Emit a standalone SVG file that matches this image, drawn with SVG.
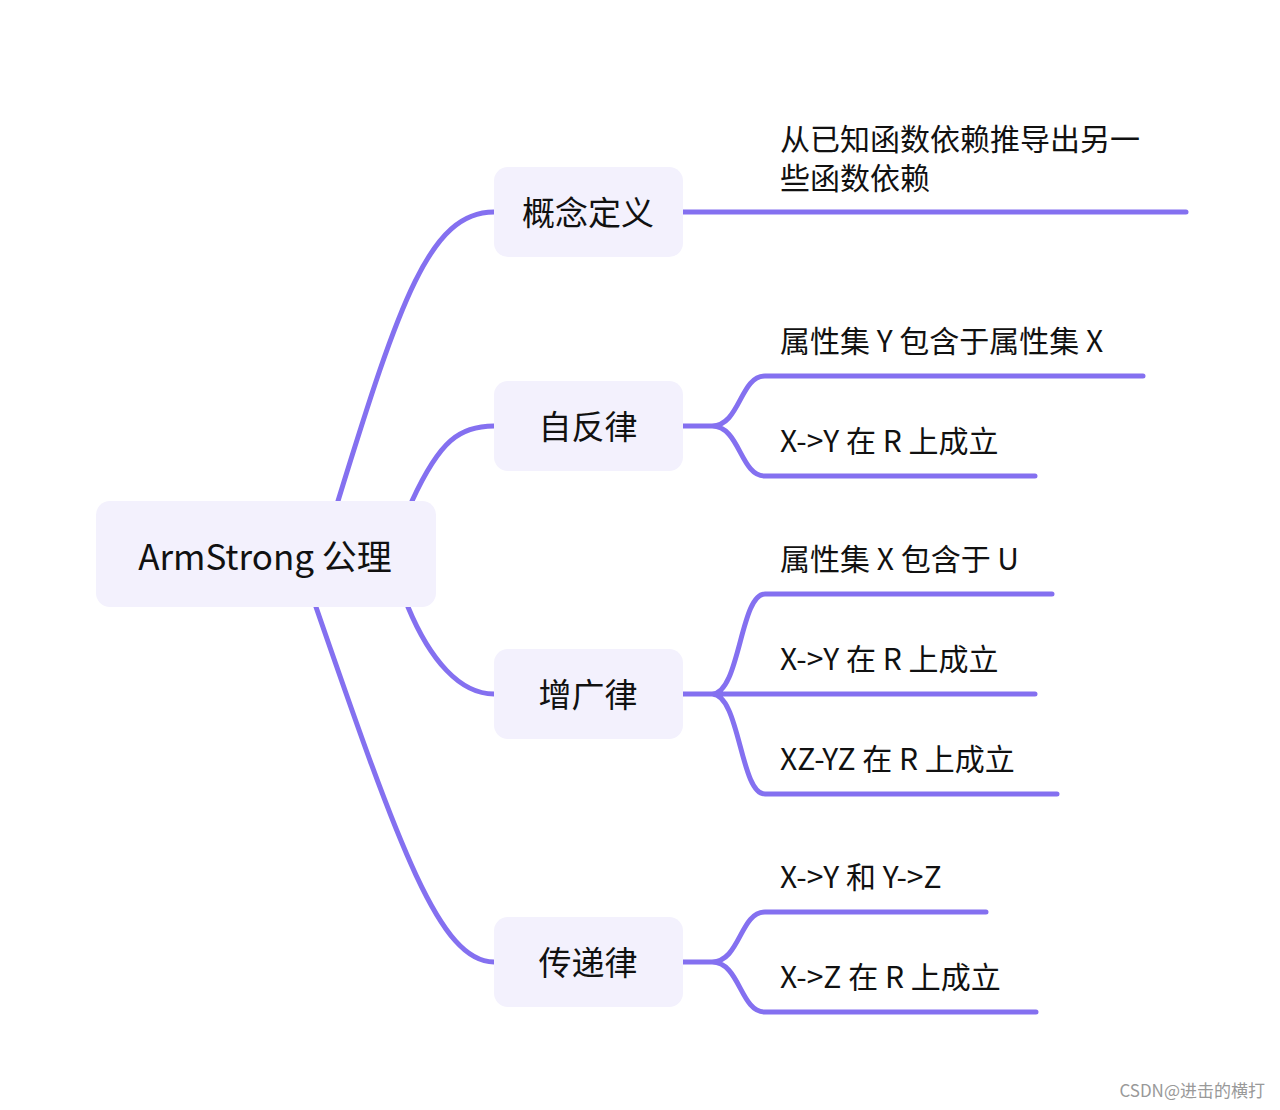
<svg xmlns="http://www.w3.org/2000/svg" width="1280" height="1110" viewBox="0 0 1280 1110">
<style>
.box{fill:#f3f1fd}
.c{fill:none;stroke:#8470f0;stroke-width:5;stroke-linecap:round}
.t{font-family:"Noto Sans CJK SC","Noto Sans",sans-serif;fill:#111}
.n{font-size:33px;text-anchor:middle}
.l{font-size:30px}
</style>
<rect width="1280" height="1110" fill="#fff"/>
<g id="connectors">
<path class="c" d="M338,501 C400,300 430,212 494,212"/>
<path class="c" d="M412,501 C440,440 460,426 494,426"/>
<path class="c" d="M408,607 C430,660 460,694 494,694"/>
<path class="c" d="M316,607 C400,850 440,962 494,962"/>
<path class="c" d="M683,212 H1186"/>
<path class="c" d="M683,426 H712 C740,426 740,376 765,376 H1143 M712,426 C740,426 740,476 765,476 H1035"/>
<path class="c" d="M683,694 H1035 M712,694 C740,694 740,594 765,594 H1052 M712,694 C740,694 740,794 765,794 H1057"/>
<path class="c" d="M683,962 H712 C740,962 740,912 765,912 H986 M712,962 C740,962 740,1012 765,1012 H1036"/>
</g>
<g id="root"><rect class="box" x="96" y="501" width="340" height="106" rx="14"/><text class="t" x="265" y="570" font-size="35" text-anchor="middle">ArmStrong 公理</text></g>
<g id="n1"><rect class="box" x="494" y="167" width="189" height="90" rx="14"/><text class="t n" x="588" y="225">概念定义</text></g>
<g id="n2"><rect class="box" x="494" y="381" width="189" height="90" rx="14"/><text class="t n" x="588" y="439">自反律</text></g>
<g id="n3"><rect class="box" x="494" y="649" width="189" height="90" rx="14"/><text class="t n" x="588" y="707">增广律</text></g>
<g id="n4"><rect class="box" x="494" y="917" width="189" height="90" rx="14"/><text class="t n" x="588" y="975">传递律</text></g>
<g id="labels">
<text class="t l" x="780" y="150">从已知函数依赖推导出另一<tspan x="780" y="189">些函数依赖</tspan></text>
<text class="t l" x="780" y="352">属性集 Y 包含于属性集 X</text>
<text class="t l" x="780" y="452">X-&gt;Y 在 R 上成立</text>
<text class="t l" x="780" y="570">属性集 X 包含于 U</text>
<text class="t l" x="780" y="670">X-&gt;Y 在 R 上成立</text>
<text class="t l" x="780" y="770">XZ-YZ 在 R 上成立</text>
<text class="t l" x="780" y="888">X-&gt;Y 和 Y-&gt;Z</text>
<text class="t l" x="780" y="988">X-&gt;Z 在 R 上成立</text>
<text class="t" x="1265" y="1097" font-size="17" text-anchor="end" style="fill:#999">CSDN@进击的横打</text>
</g>
</svg>
